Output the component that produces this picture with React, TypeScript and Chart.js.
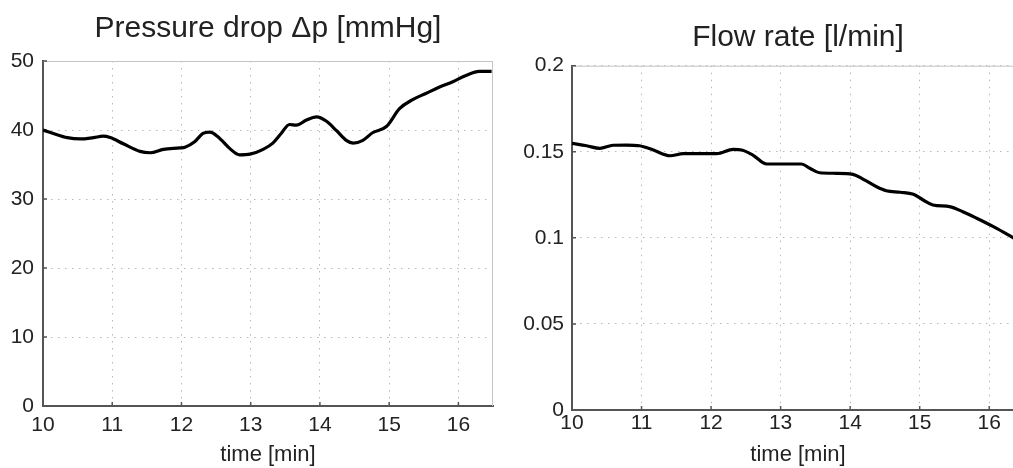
import React, { useEffect, useRef } from "react";
import { Chart, registerables } from "chart.js";

Chart.register(...registerables);

// ---- data ----
const pressureTime = [10.0, 10.15, 10.35, 10.54, 10.73, 10.87, 10.97, 11.16, 11.4, 11.55, 11.74, 11.98, 12.05, 12.19, 12.31, 12.41, 12.53, 12.7, 12.84, 12.99, 13.18, 13.32, 13.44, 13.56, 13.66, 13.8, 13.95, 14.09, 14.24, 14.38, 14.48, 14.62, 14.76, 14.96, 15.15, 15.34, 15.53, 15.72, 15.92, 16.11, 16.3, 16.48];
const pressureValues = [40.0, 39.5, 38.9, 38.7, 38.9, 39.1, 38.9, 38.0, 36.9, 36.7, 37.2, 37.4, 37.5, 38.3, 39.5, 39.7, 39.0, 37.3, 36.4, 36.5, 37.2, 38.1, 39.5, 40.8, 40.7, 41.4, 41.9, 41.3, 39.9, 38.5, 38.1, 38.5, 39.6, 40.5, 43.1, 44.4, 45.3, 46.2, 47.0, 47.9, 48.5, 48.5];

const flowTime = [10.0, 10.21, 10.4, 10.59, 10.78, 10.97, 11.17, 11.41, 11.6, 11.84, 12.08, 12.32, 12.44, 12.6, 12.8, 12.99, 13.3, 13.42, 13.56, 13.8, 14.04, 14.19, 14.38, 14.52, 14.72, 14.91, 15.05, 15.19, 15.43, 15.62, 15.82, 16.06, 16.3, 16.36];
const flowValues = [0.1549, 0.1535, 0.152, 0.1538, 0.1539, 0.1535, 0.151, 0.1477, 0.1489, 0.1489, 0.1489, 0.1514, 0.151, 0.1481, 0.1429, 0.1429, 0.1429, 0.1404, 0.1378, 0.1375, 0.1369, 0.134, 0.1297, 0.1274, 0.1265, 0.1253, 0.122, 0.1191, 0.1181, 0.1152, 0.1114, 0.1065, 0.1011, 0.0997];

const timeTicks = [10, 11, 12, 13, 14, 15, 16];
const pressureTicks = [0, 10, 20, 30, 40, 50];
const pressureTickLabels = ["0", "10", "20", "30", "40", "50"];
const flowTicks = [0, 0.05, 0.1, 0.15, 0.2];
const flowTickLabels = ["0", "0.05", "0.1", "0.15", "0.2"];

const pressureTitle = "Pressure drop \u0394p [mmHg]";
const flowTitle = "Flow rate [l/min]";
const timeLabel = "time [min]";

const FONT = "'Liberation Sans', Arial, Helvetica, sans-serif";

const framePlugin = {
  id: "matlabFrame",
  afterLayout(chart: any) {
    // let the y tick labels use the left padding strip
    const ys = chart.scales.y;
    ys.left = 0;
    ys.width = ys.right;
  },
  beforeDatasetsDraw(chart: any) {
    const { ctx, chartArea } = chart;
    const { left, right, top, bottom } = chartArea;
    ctx.save();
    // light box on top / right
    ctx.strokeStyle = "#c4c4c4";
    ctx.lineWidth = 1;
    ctx.beginPath();
    ctx.moveTo(left, top + 0.5);
    ctx.lineTo(right, top + 0.5);
    ctx.moveTo(right - 0.5, top);
    ctx.lineTo(right - 0.5, bottom);
    ctx.stroke();
    // inward tick marks
    ctx.strokeStyle = "#555";
    ctx.lineWidth = 1.5;
    ctx.beginPath();
    const xs = chart.scales.x;
    xs.ticks.forEach((t: any) => {
      const px = xs.getPixelForValue(t.value);
      ctx.moveTo(px, bottom);
      ctx.lineTo(px, bottom - 4);
    });
    const ys = chart.scales.y;
    ys.ticks.forEach((t: any) => {
      const py = ys.getPixelForValue(t.value);
      ctx.moveTo(left, py);
      ctx.lineTo(left + 4, py);
    });
    ctx.stroke();
    ctx.restore();
  },
};

type PanelCfg = {
  times: number[];
  values: number[];
  yMax: number;
  yTicks: number[];
  yLabels: string[];
  title: string;
  padLeft: number;
  xHeight: number;
  padRight: number;
  titlePadTop: number;
  titlePadBottom: number;
  xTickPad: number;
  xTitlePadBottom: number;
  yTickPad: number;
};

function makeConfig(c: PanelCfg): any {
  return {
    type: "line",
    data: {
      datasets: [
        {
          data: c.times.map((t, i) => ({ x: t, y: c.values[i] })),
          borderColor: "#000",
          borderWidth: 3.2,
          pointRadius: 0,
          cubicInterpolationMode: "monotone",
          fill: false,
        },
      ],
    },
    options: {
      animation: false,
      responsive: false,
      devicePixelRatio: 1,
      layout: { padding: { left: c.padLeft, right: c.padRight, top: 0, bottom: 0 } },
      plugins: {
        legend: { display: false },
        tooltip: { enabled: false },
        title: {
          display: true,
          text: c.title,
          color: "#222",
          font: { family: FONT, size: 30, weight: "normal", lineHeight: 1.2 },
          padding: { top: c.titlePadTop, bottom: c.titlePadBottom },
        },
      },
      scales: {
        x: {
          type: "linear",
          min: 10,
          max: 16.5,
          afterBuildTicks: (s: any) => {
            s.ticks = timeTicks.map((v) => ({ value: v }));
          },
          afterFit: (s: any) => {
            s.height = c.xHeight;
          },
          ticks: {
            color: "#222",
            font: { family: FONT, size: 21 },
            padding: c.xTickPad,
            maxRotation: 0,
            autoSkip: false,
            callback: (v: any) => String(v),
          },
          grid: { color: "#b8b8b8", lineWidth: 1, drawTicks: false },
          border: { display: true, color: "#555", width: 2, dash: [1.5, 5.5] },
          title: {
            display: true,
            text: timeLabel,
            color: "#222",
            font: { family: FONT, size: 22 },
            padding: { top: 0, bottom: c.xTitlePadBottom },
          },
        },
        y: {
          type: "linear",
          min: 0,
          max: c.yMax,
          afterBuildTicks: (s: any) => {
            s.ticks = c.yTicks.map((v) => ({ value: v }));
          },
          afterFit: (s: any) => {
            s.width = 0;
          },
          ticks: {
            color: "#222",
            font: { family: FONT, size: 21 },
            padding: c.yTickPad,
            autoSkip: false,
            callback: (v: any) => {
              const i = c.yTicks.indexOf(v);
              return i >= 0 ? c.yLabels[i] : "";
            },
          },
          grid: { color: "#b8b8b8", lineWidth: 1, drawTicks: false },
          border: { display: true, color: "#555", width: 2, dash: [1.5, 5.5] },
        },
      },
    },
    plugins: [framePlugin],
  };
}

function Panel(props: { cfg: PanelCfg; left: number; width: number; height: number }) {
  const ref = useRef<HTMLCanvasElement | null>(null);
  useEffect(() => {
    if (!ref.current) return;
    const chart = new Chart(ref.current, makeConfig(props.cfg));
    return () => chart.destroy();
  }, []);
  return (
    <canvas
      ref={ref}
      width={props.width}
      height={props.height}
      style={{ position: "absolute", left: props.left, top: 0, width: props.width, height: props.height }}
    />
  );
}

export default function App() {
  const leftCfg: PanelCfg = {
    times: pressureTime,
    values: pressureValues,
    yMax: 50,
    yTicks: pressureTicks,
    yLabels: pressureTickLabels,
    title: pressureTitle,
    padLeft: 43,
    xHeight: 62,
    padRight: 7,
    titlePadTop: 10.5,
    titlePadBottom: 14.5,
    xTickPad: 7,
    xTitlePadBottom: 0,
    yTickPad: 9,
  };
  const rightCfg: PanelCfg = {
    times: flowTime,
    values: flowValues,
    yMax: 0.2,
    yTicks: flowTicks,
    yLabels: flowTickLabels,
    title: flowTitle,
    padLeft: 72,
    xHeight: 58,
    padRight: 6,
    titlePadTop: 19.5,
    titlePadBottom: 10.2,
    xTickPad: 1,
    xTitlePadBottom: 0,
    yTickPad: 8,
  };
  return (
    <div
      style={{
        position: "fixed",
        left: 0,
        top: 0,
        width: 1013,
        height: 468,
        overflow: "hidden",
        background: "#fff",
      }}
    >
      <Panel cfg={leftCfg} left={0} width={500} height={468} />
      <Panel cfg={rightCfg} left={500} width={530} height={468} />
    </div>
  );
}
